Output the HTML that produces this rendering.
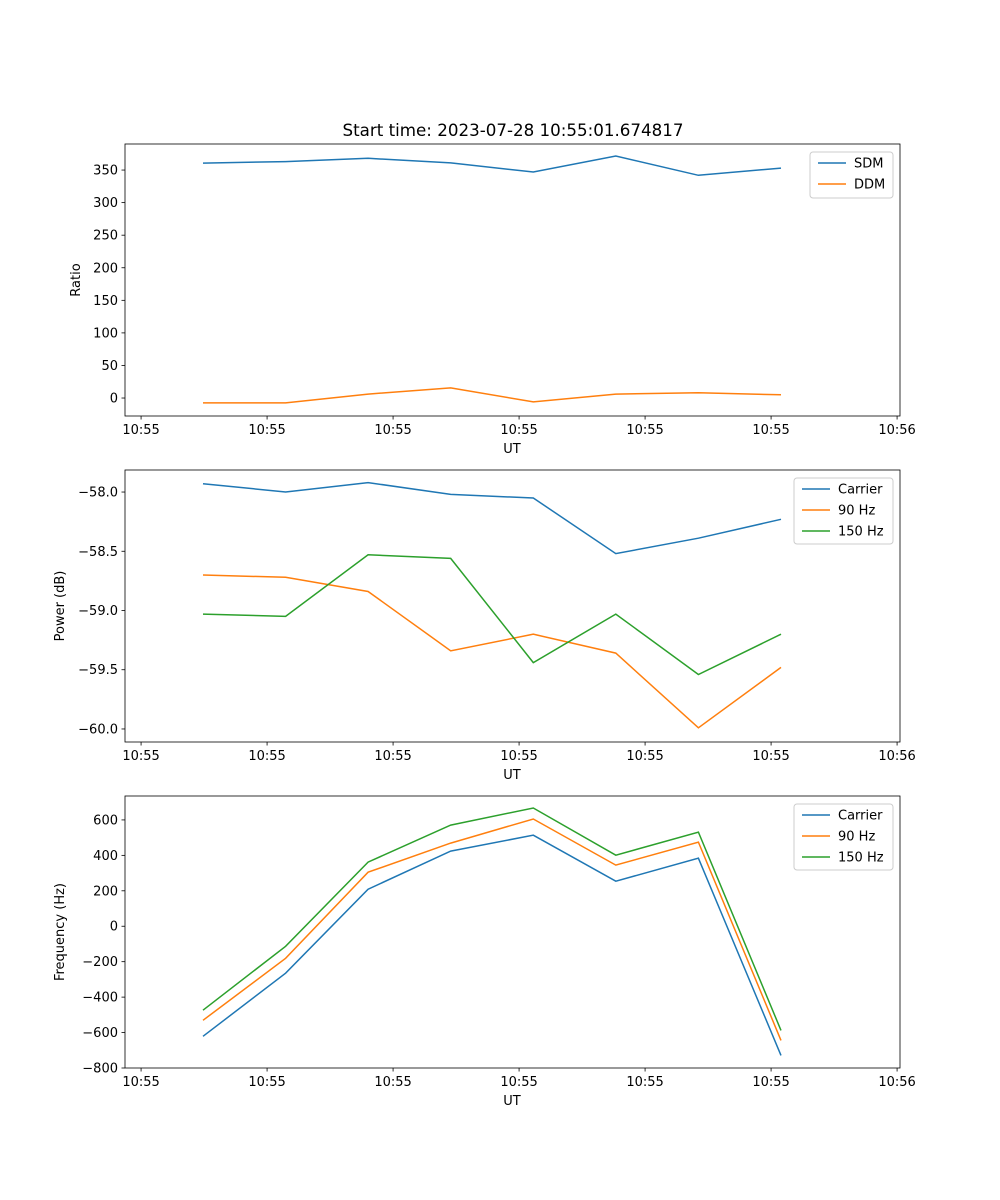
<!DOCTYPE html>
<html><head><meta charset="utf-8"><style>
body{margin:0;background:#fff}
svg{display:block;font-family:"DejaVu Sans","Liberation Sans",sans-serif}
</style></head><body>
<svg id="fig" width="1000" height="1200" viewBox="0 0 1000 1200"></svg>
<script>
const times=[0,1,2,3,4,5,6,7];
const xTickVals=[-0.75,0.776,2.302,3.828,5.354,6.88,8.406];
const xTickLabels=["10:55","10:55","10:55","10:55","10:55","10:55","10:56"];
const sdm=[360.7,363,368,361,347,371.5,342,353];
const ddm=[-7.5,-7.5,6,15.5,-6,6,8,5];
const pCarrier=[-57.93,-58.0,-57.92,-58.02,-58.05,-58.52,-58.39,-58.23];
const p90=[-58.70,-58.72,-58.84,-59.34,-59.20,-59.36,-59.99,-59.48];
const p150=[-59.03,-59.05,-58.53,-58.56,-59.44,-59.03,-59.54,-59.20];
const fCarrier=[-621,-265,209,424,514,254,384,-729];
const f90=[-531,-181,305,469,605,345,475,-644];
const f150=[-474,-113,362,571,667,401,531,-588];
const ticks1=[0,50,100,150,200,250,300,350];
const ticks2=[-58.0,-58.5,-59.0,-59.5,-60.0];
const ticks3=[600,400,200,0,-200,-400,-600,-800];
const C=["#1f77b4","#ff7f0e","#2ca02c"];
const NS="http://www.w3.org/2000/svg";
const fig=document.getElementById('fig');
function el(tag,attrs,parent,text){const e=document.createElementNS(NS,tag);for(const k in attrs)e.setAttribute(k,attrs[k]);if(text!==undefined)e.textContent=text;(parent||fig).appendChild(e);return e;}
const X0=125,X1=900;
const xs=v=>203+v*82.57;
function panel(name,top,bot,ymin,ymax,yt,ylabelTxt,series,labels,legW,fmt){
  const g=el('g',{});
  
  
  const ys=v=>bot-(v-ymin)/(ymax-ymin)*(bot-top);
  series.forEach((s,i)=>{
    const p=el('polyline',{points:s.map((v,j)=>xs(times[j]).toFixed(1)+","+ys(v).toFixed(1)).join(" "),fill:"none",stroke:C[i],"stroke-width":1.5},g);
    
    
  });
  el('rect',{x:X0,y:top,width:X1-X0,height:bot-top,fill:"none",stroke:"#000","stroke-width":0.8},g);
  xTickVals.forEach((v,i)=>{const x=xs(v);
    el('line',{x1:x,x2:x,y1:bot,y2:bot+3.5,stroke:"#000","stroke-width":0.8},g);
    const t=el('text',{x:x,y:bot+18,"font-size":13,"text-anchor":"middle"},g,xTickLabels[i]);
    });
  yt.forEach(v=>{const y=ys(v);
    el('line',{x1:X0-3.5,x2:X0,y1:y,y2:y,stroke:"#000","stroke-width":0.8},g);
    const t=el('text',{x:X0-7,y:y+4.5,"font-size":13,"text-anchor":"end"},g,fmt(v));
    });
  const xl=el('text',{x:512,y:bot+37,"font-size":13,"text-anchor":"middle"},g,"UT");
  
  const lx=name==='ratio-panel'?80:64;
  const yl=el('text',{x:lx,y:(top+bot)/2,"font-size":13,"text-anchor":"middle",transform:`rotate(-90 ${lx} ${(top+bot)/2})`},g,ylabelTxt);
  
  const lg=el('g',{},g);
  
  const lx0=X1-7-legW;
  el('rect',{x:lx0,y:top+8,width:legW,height:6+labels.length*20,fill:"#fff",stroke:"#ccc",rx:3},lg);
  labels.forEach((l,i)=>{const y=top+19+i*21;
    el('line',{x1:lx0+8,x2:lx0+36,y1:y,y2:y,stroke:C[i],"stroke-width":1.5},lg);
    const t=el('text',{x:lx0+44,y:y+4.5,"font-size":13},lg,l);
    });
}
const tt=el('text',{x:513,y:136,"font-size":16.7,"text-anchor":"middle"},fig,"Start time: 2023-07-28 10:55:01.674817");

panel('ratio-panel',144,416,-27.6,390,ticks1,"Ratio",[sdm,ddm],["SDM","DDM"],83,v=>String(v));
panel('power-panel',470,742,-60.11,-57.814,ticks2,"Power (dB)",[pCarrier,p90,p150],["Carrier","90 Hz","150 Hz"],99,v=>v.toFixed(1).replace('-','\u2212'));
panel('frequency-panel',796,1068,-800,735,ticks3,"Frequency (Hz)",[fCarrier,f90,f150],["Carrier","90 Hz","150 Hz"],99,v=>String(v).replace('-','\u2212'));
</script>
</body></html>
